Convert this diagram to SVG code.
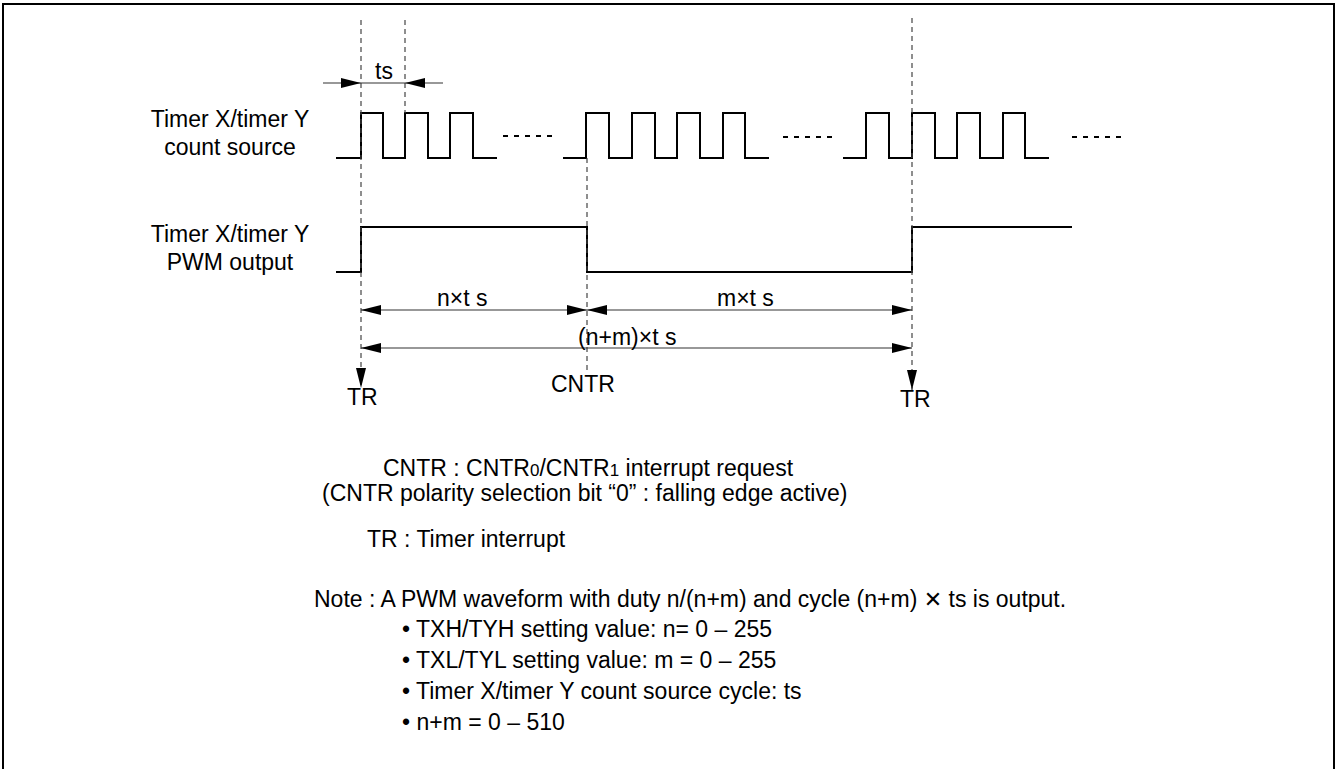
<svg xmlns="http://www.w3.org/2000/svg" width="1339" height="769" viewBox="0 0 1339 769">
<style>
  text { font-family: "Liberation Sans", Arial, sans-serif; font-size: 23px; fill: #000; }
  .wave { fill: none; stroke: #000; stroke-width: 2; }
  .dots { fill: none; stroke: #000; stroke-width: 2; stroke-dasharray: 5 6; }
  .guide { fill: none; stroke: #444; stroke-width: 1.2; stroke-dasharray: 5 4; }
  .dim { fill: none; stroke: #333; stroke-width: 1.2; }
  .frame { fill: none; stroke: #000; stroke-width: 2; }
</style>
<defs>
  <marker id="ah" viewBox="0 0 20 10" refX="20" refY="5" markerWidth="20" markerHeight="10" markerUnits="userSpaceOnUse" orient="auto-start-reverse">
    <path d="M0,0 L20,5 L0,10 z" fill="#000"/>
  </marker>
</defs>
<rect width="1339" height="769" fill="#fff"/>
<path class="frame" d="M3,775 V4 H1334 V775"/>

<g id="labels">
  <text x="230" y="127" text-anchor="middle">Timer X/timer Y</text>
  <text x="230" y="155" text-anchor="middle">count source</text>
  <text x="230" y="242" text-anchor="middle">Timer X/timer Y</text>
  <text x="230" y="270" text-anchor="middle">PWM output</text>
</g>

<g id="count-source">
  <path class="wave" d="M336,158 H361 V113 H383 V158 H405 V113 H428 V158 H450 V113 H473 V158 H497"/>
  <path class="dots" d="M503,136 H552"/>
  <path class="wave" d="M563,158 H586 V113 H609 V158 H632 V113 H655 V158 H677 V113 H700 V158 H723 V113 H745 V158 H769"/>
  <path class="dots" d="M783,137 H832"/>
  <path class="wave" d="M843,158 H866 V113 H889 V158 H912 V113 H935 V158 H957 V113 H980 V158 H1003 V113 H1025 V158 H1049"/>
  <path class="dots" d="M1072,137 H1121"/>
</g>

<g id="pwm-output">
  <path class="wave" d="M336,272 H361 V227 H587 V272 H912 V227 H1072"/>
</g>

<g id="connectors">
  <path class="guide" d="M361,20 V388" marker-end="url(#ah)"/>
  <path class="guide" d="M405,20 V113"/>
  <path class="guide" d="M587,158 V374"/>
  <path class="guide" d="M912,18 V390" marker-end="url(#ah)"/>
  <path class="dim" d="M323,83 H361" marker-end="url(#ah)"/>
  <path class="dim" d="M361,83 H405"/>
  <path class="dim" d="M443,83 H405" marker-end="url(#ah)"/>
  <path class="dim" d="M361,310 H587" marker-start="url(#ah)" marker-end="url(#ah)"/>
  <path class="dim" d="M587,310 H912" marker-start="url(#ah)" marker-end="url(#ah)"/>
  <path class="dim" d="M361,348 H912" marker-start="url(#ah)" marker-end="url(#ah)"/>
</g>

<g id="timing-labels">
  <text x="375" y="79">ts</text>
  <text x="437" y="306">n×t s</text>
  <text x="717" y="306">m×t s</text>
  <text x="578" y="345">(n+m)×t s</text>
  <text x="347" y="405">TR</text>
  <text x="551" y="392">CNTR</text>
  <text x="900" y="407">TR</text>
</g>

<g id="legend">
  <text x="383" y="476">CNTR : CNTR<tspan font-size="17">0</tspan>/CNTR<tspan font-size="17">1</tspan> interrupt request</text>
  <text x="322" y="501">(CNTR polarity selection bit “0” : falling edge active)</text>
  <text x="367" y="547">TR : Timer interrupt</text>
</g>

<g id="note">
  <text x="314" y="607">Note : A PWM waveform with duty n/(n+m) and cycle (n+m)  <tspan font-family="'DejaVu Sans', sans-serif" font-size="22" font-weight="bold">✕</tspan> ts is output.</text>
  <text x="402" y="637">• TXH/TYH setting value: n= 0 – 255</text>
  <text x="402" y="668">• TXL/TYL setting value: m = 0 – 255</text>
  <text x="402" y="699">• Timer X/timer Y count source cycle: ts</text>
  <text x="402" y="730">• n+m = 0 – 510</text>
</g>
</svg>
